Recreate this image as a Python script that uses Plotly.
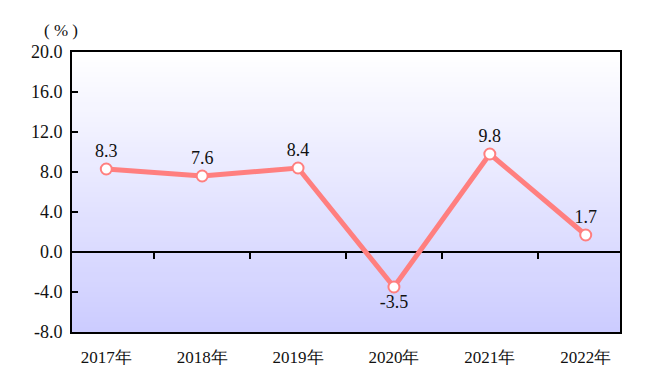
import plotly.graph_objects as go

years = ["2017年", "2018年", "2019年", "2020年", "2021年", "2022年"]
growth = [8.3, 7.6, 8.4, -3.5, 9.8, 1.7]
label_pos = ["top center", "top center", "top center", "bottom center", "top center", "top center"]
y_ticks = [-8, -4, 0, 4, 8, 12, 16, 20]
y_tick_labels = ["-8.0", "-4.0", "0.0", "4.0", "8.0", "12.0", "16.0", "20.0"]

LINE = "#ff7f7f"
SERIF = "serif"

fig = go.Figure()
fig.add_trace(go.Scatter(
    x=years, y=growth, mode="lines+markers+text",
    text=[f"{v:.1f}" for v in growth], textposition=label_pos,
    textfont=dict(family=SERIF, size=18, color="#111111"),
    line=dict(color=LINE, width=5),
    marker=dict(size=11, color="white", line=dict(color=LINE, width=2)),
    cliponaxis=False, showlegend=False,
))
# invisible trace on the zero-line axis so boundary ticks appear there
fig.add_trace(go.Scatter(x=years, y=growth, xaxis="x2", mode="none",
                         showlegend=False, hoverinfo="skip"))

# vertical gradient background (white -> lavender)
n = 56
shapes = []
for i in range(n):
    t = (i + 0.5) / n
    r = int(round(204 + (255 - 204) * t))
    shapes.append(dict(type="rect", xref="x domain", yref="y domain",
                       x0=0, x1=1, y0=i / n, y1=min(1, (i + 1.6) / n),
                       fillcolor=f"rgb({r},{r},255)", line=dict(width=0),
                       layer="below"))

fig.update_layout(
    width=641, height=367,
    margin=dict(l=64, r=29, t=44, b=43),
    paper_bgcolor="white", plot_bgcolor="white",
    shapes=shapes,
    font=dict(family=SERIF, size=16, color="#111111"),
    xaxis=dict(type="category", showline=True, mirror=True, linecolor="black",
               linewidth=2, ticks="", showgrid=False, zeroline=False,
               automargin=False,
               tickfont=dict(family=SERIF, size=17), ticklabelstandoff=9),
    xaxis2=dict(type="category", overlaying="x", matches="x", anchor="free",
                position=8 / 28, side="bottom", showline=False, ticks="outside",
                ticklen=6, tickwidth=2, tickcolor="black", tickson="boundaries",
                showticklabels=False, showgrid=False, zeroline=False,
                automargin=False),
    yaxis=dict(range=[-8, 20], tickmode="array", tickvals=y_ticks,
               ticktext=y_tick_labels,
               showline=True, mirror=True, linecolor="black", linewidth=2,
               ticks="inside", ticklen=6, tickwidth=2, tickcolor="black",
               showgrid=False, zeroline=True, zerolinecolor="black",
               zerolinewidth=2, tickfont=dict(family=SERIF, size=18),
               ticklabelstandoff=4, automargin=False),
    annotations=[dict(text="( % )", xref="paper", yref="paper", x=-0.02, y=1.0,
                      xanchor="center", yanchor="bottom", yshift=10, showarrow=False,
                      font=dict(family=SERIF, size=17, color="#111111"))],
)

fig.write_html("out.html")
